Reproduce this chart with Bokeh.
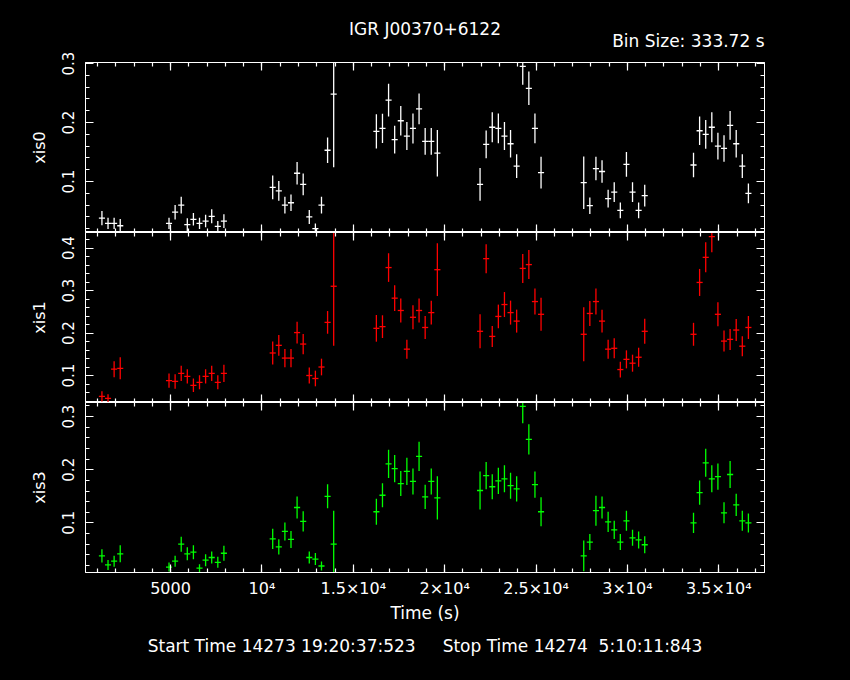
from bokeh.plotting import figure
from bokeh.layouts import column
from bokeh.models import Range1d, FixedTicker, LinearAxis, Title, ColumnDataSource
from bokeh.embed import file_html
from bokeh.resources import INLINE

# ---------------- data ----------------
T_START = 1245.0          # centre of first bin (s)
BIN = 333.72              # bin size (s)
bins = [0, 1, 2, 3,
        11, 12, 13, 14, 15, 16, 17, 18, 19, 20,
        28, 29, 30, 31, 32, 33, 34, 35, 36, 37, 38,
        45, 46, 47, 48, 49, 50, 51, 52, 53, 54, 55,
        62, 63, 64, 65, 66, 67, 68, 69, 70, 71, 72,
        79, 80, 81, 82, 83, 84, 85, 86, 87, 88, 89,
        97, 98, 99, 100, 101, 102, 103, 104, 105, 106]

xis0 = [0.038, 0.029, 0.029, 0.025,
        0.029, 0.048, 0.060, 0.027, 0.036, 0.029, 0.033, 0.041, 0.024, 0.033,
        0.090, 0.084, 0.060, 0.064, 0.114, 0.095, 0.040, 0.020, 0.060, 0.153, 0.248,
        0.185, 0.190, 0.238, 0.171, 0.203, 0.177, 0.190, 0.223, 0.168, 0.168, 0.148,
        0.095, 0.163, 0.192, 0.190, 0.177, 0.164, 0.126, 0.295, 0.258, 0.190, 0.115,
        0.098, 0.059, 0.122, 0.117, 0.071, 0.082, 0.051, 0.129, 0.082, 0.051, 0.076,
        0.128, 0.186, 0.180, 0.192, 0.160, 0.156, 0.195, 0.164, 0.126, 0.080]
xis0_err = [0.012, 0.0096, 0.0096, 0.0113,
            0.0096, 0.0124, 0.0141, 0.0107, 0.0107, 0.0096, 0.0107, 0.0119, 0.009, 0.0116,
            0.020, 0.0167, 0.0141, 0.0141, 0.0192, 0.0184, 0.0119, 0.0088, 0.0141, 0.0218, 0.124,
            0.029, 0.0249, 0.0277, 0.0237, 0.0251, 0.0237, 0.0254, 0.026, 0.0226, 0.0226, 0.0395,
            0.0277, 0.0234, 0.0254, 0.0251, 0.0237, 0.0234, 0.020, 0.031, 0.0285, 0.0251, 0.0268,
            0.0446, 0.0141, 0.020, 0.0192, 0.015, 0.0167, 0.0133, 0.0209, 0.0167, 0.0133, 0.0184,
            0.0209, 0.0243, 0.0243, 0.0254, 0.0226, 0.0226, 0.0243, 0.0234, 0.020, 0.0167]

xis1 = [0.051, 0.046, 0.115, 0.117,
        0.088, 0.086, 0.105, 0.098, 0.077, 0.084, 0.098, 0.105, 0.084, 0.105,
        0.153, 0.171, 0.141, 0.141, 0.201, 0.174, 0.100, 0.093, 0.120, 0.225, 0.310,
        0.211, 0.215, 0.354, 0.282, 0.253, 0.162, 0.237, 0.253, 0.213, 0.248, 0.349,
        0.204, 0.375, 0.192, 0.239, 0.267, 0.248, 0.228, 0.352, 0.361, 0.274, 0.244,
        0.197, 0.246, 0.274, 0.228, 0.162, 0.164, 0.114, 0.138, 0.129, 0.143, 0.204,
        0.197, 0.319, 0.378, 0.427, 0.244, 0.181, 0.185, 0.207, 0.169, 0.213]
xis1_err = [0.0122, 0.0098, 0.0188, 0.0259,
            0.0169, 0.0172, 0.018, 0.0169, 0.0157, 0.0165, 0.0169, 0.018, 0.0165, 0.0204,
            0.027, 0.0243, 0.0216, 0.0216, 0.0255, 0.0239, 0.0188, 0.0184, 0.0196, 0.0267, 0.140,
            0.0314, 0.0267, 0.0337, 0.0302, 0.0282, 0.0224, 0.0282, 0.0282, 0.027, 0.0282, 0.062,
            0.040, 0.0341, 0.0247, 0.0278, 0.0294, 0.0282, 0.027, 0.0341, 0.0341, 0.0306, 0.0388,
            0.0635, 0.0294, 0.0306, 0.027, 0.0224, 0.0235, 0.0184, 0.0212, 0.020, 0.0224, 0.0294,
            0.027, 0.0318, 0.0353, 0.037, 0.0282, 0.0247, 0.0247, 0.0259, 0.0235, 0.027]

xis3 = [0.038, 0.021, 0.028, 0.042,
        0.017, 0.028, 0.060, 0.042, 0.045, 0.015, 0.030, 0.035, 0.026, 0.043,
        0.070, 0.055, 0.084, 0.069, 0.129, 0.103, 0.035, 0.032, 0.019, 0.150, 0.060,
        0.121, 0.152, 0.211, 0.202, 0.174, 0.197, 0.178, 0.225, 0.149, 0.178, 0.147,
        0.161, 0.189, 0.168, 0.179, 0.183, 0.170, 0.164, 0.319, 0.257, 0.172, 0.121,
        0.038, 0.064, 0.123, 0.129, 0.102, 0.087, 0.064, 0.104, 0.072, 0.068, 0.059,
        0.100, 0.157, 0.213, 0.183, 0.187, 0.119, 0.191, 0.134, 0.104, 0.100]
xis3_err = [0.0123, 0.0094, 0.0104, 0.016,
            0.0085, 0.0104, 0.0142, 0.0123, 0.0132, 0.0075, 0.0113, 0.0113, 0.0104, 0.0142,
            0.0189, 0.0142, 0.017, 0.016, 0.0208, 0.0189, 0.0113, 0.0113, 0.0085, 0.0226, 0.063,
            0.0245, 0.0226, 0.0264, 0.0255, 0.0236, 0.0255, 0.0245, 0.0274, 0.0226, 0.0245, 0.0406,
            0.0358, 0.0255, 0.0236, 0.0245, 0.0255, 0.0245, 0.0236, 0.0315, 0.0283, 0.0245, 0.0274,
            0.029, 0.0151, 0.0283, 0.0208, 0.0189, 0.017, 0.0151, 0.0189, 0.0151, 0.016, 0.016,
            0.0189, 0.0226, 0.0264, 0.0255, 0.0245, 0.0198, 0.0255, 0.0208, 0.0189, 0.0179]

x_ticks = [5000, 10000, 15000, 20000, 25000, 30000, 35000]
x_tick_labels = ["5000", "10⁴", "1.5×10⁴", "2×10⁴", "2.5×10⁴", "3×10⁴", "3.5×10⁴"]

TITLE = "IGR J00370+6122"
BIN_LABEL = "Bin Size: 333.72 s"
X_LABEL = "Time (s)"
TIME_LINE = "Start Time 14273 19:20:37:523\u00a0\u00a0\u00a0\u00a0 Stop Time 14274\u00a0 5:10:11:843"

X_RANGE = (346, 37500)
FONT = "DejaVu Sans"

time = [T_START + BIN * k for k in bins]


def style_axis(ax, labels):
    ax.axis_line_color = "white"
    ax.axis_line_width = 1
    ax.major_tick_line_color = "white"
    ax.minor_tick_line_color = "white"
    ax.major_tick_line_width = 1.2
    ax.minor_tick_line_width = 1.2
    ax.major_tick_in = 8
    ax.major_tick_out = 0
    ax.minor_tick_in = 4
    ax.minor_tick_out = 0
    ax.major_label_text_color = "white"
    ax.major_label_text_font = FONT
    ax.axis_label_text_color = "white"
    ax.axis_label_text_font = FONT
    ax.axis_label_text_font_style = "normal"
    if not labels:
        ax.major_label_text_font_size = "0px"
        ax.major_label_text_alpha = 0
        ax.major_label_standoff = 0


def make_panel(name, vals, errs, color, yr, majors, height, btop, bbottom, bottom_labels):
    p = figure(width=850, height=height, output_backend="svg", toolbar_location=None,
               title=None,
               x_range=Range1d(*X_RANGE), y_range=Range1d(*yr),
               x_axis_location=None, y_axis_location=None,
               background_fill_color="black", border_fill_color="black",
               outline_line_color="white", outline_line_width=1,
               min_border_left=85, min_border_right=86,
               min_border_top=btop, min_border_bottom=bbottom)
    p.xgrid.visible = False
    p.ygrid.visible = False
    minors_y = [round(0.02 * i, 2) for i in range(0, 26)]
    yt = FixedTicker(ticks=majors, minor_ticks=minors_y)
    xt = FixedTicker(ticks=x_ticks, minor_ticks=list(range(1000, 38000, 1000)))

    left = LinearAxis(ticker=yt, axis_label=name)
    style_axis(left, True)
    left.major_label_orientation = "parallel"
    left.major_label_text_font_size = "15px"
    left.major_label_standoff = 11
    left.axis_label_text_font_size = "16px"
    left.axis_label_standoff = 11
    p.add_layout(left, "left")

    right = LinearAxis(ticker=yt)
    style_axis(right, False)
    p.add_layout(right, "right")

    top = LinearAxis(ticker=xt)
    style_axis(top, False)
    p.add_layout(top, "above")

    bottom = LinearAxis(ticker=xt)
    style_axis(bottom, bottom_labels)
    if bottom_labels:
        bottom.major_label_overrides = {t: s for t, s in zip(x_ticks, x_tick_labels)}
        bottom.major_label_text_font_size = "16px"
        bottom.major_label_standoff = 6
        bottom.axis_label = X_LABEL
        bottom.axis_label_text_font_size = "17px"
        bottom.axis_label_standoff = 2
    p.add_layout(bottom, "below")

    src = ColumnDataSource(dict(
        t=time, v=vals,
        lo=[v - e for v, e in zip(vals, errs)],
        hi=[v + e for v, e in zip(vals, errs)],
        t0=[t - BIN / 2 for t in time],
        t1=[t + BIN / 2 for t in time]))
    p.segment(x0="t", y0="lo", x1="t", y1="hi", source=src, line_color=color, line_width=1.3)
    p.segment(x0="t0", y0="v", x1="t1", y1="v", source=src, line_color=color, line_width=1.3)
    return p


p1 = make_panel("xis0", xis0, xis0_err, "white", (0.0136, 0.3017), [0.1, 0.2, 0.3],
                232, 62, 0, False)
p2 = make_panel("xis1", xis1, xis1_err, "#ff0000", (0.0365, 0.4365), [0.1, 0.2, 0.3, 0.4],
                170, 0, 0, False)
p3 = make_panel("xis3", xis3, xis3_err, "#00ff00", (0.0068, 0.3264), [0.1, 0.2, 0.3],
                278, 0, 108, True)

# titles above the top panel: the first added sits closest to the frame
p1.add_layout(Title(text=BIN_LABEL, align="right", text_color="white", text_font=FONT,
                    text_font_style="normal", text_font_size="17px", standoff=23), "above")
p1.add_layout(Title(text=TITLE, align="center", text_color="white", text_font=FONT,
                    text_font_style="normal", text_font_size="17px", standoff=-42), "above")

p3.add_layout(Title(text=TIME_LINE, align="center", text_color="white", text_font=FONT,
                    text_font_style="normal", text_font_size="17px", standoff=16), "below")

layout = column(p1, p2, p3, spacing=0)

html = file_html(layout, INLINE, title="IGR J00370+6122")
html = html.replace("<head>",
                    "<head><style>html,body{background:#000000;margin:0;padding:0;}</style>", 1)
open("out.html", "w").write(html)
